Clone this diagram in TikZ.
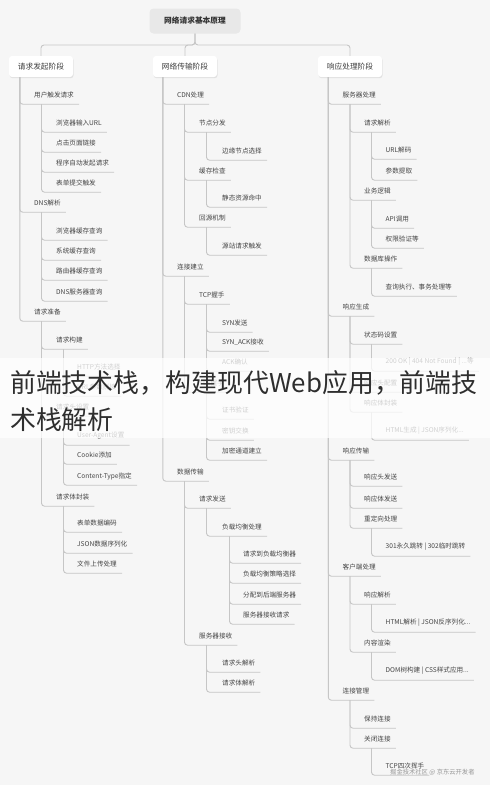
\documentclass[tikz,border=0pt]{standalone}
\usepackage{fontspec}
\setmainfont{Noto Sans CJK SC}
\usetikzlibrary{shadows}
\definecolor{bg}{HTML}{F6F6F6}
\definecolor{txt}{HTML}{454545}
\definecolor{ln}{HTML}{C6C6C6}
\definecolor{rootfill}{HTML}{E8E8E8}
\newcommand\mmnode[5]{\node[item] (#1) at (#2,#3) {#4}; \draw[conn] (#5) |- ([xshift=5pt]#1.south east);}
\newcommand\mmsub[5]{\mmnode{#1}{#2}{#3}{#4}{[xshift=7.5pt]#5.south west}}
\begin{document}
\begin{tikzpicture}[x=1pt,y=-1pt,
  item/.style={anchor=west, inner sep=0pt, minimum height=18pt, font=\fontsize{6.6}{7}\selectfont, text=txt},
  conn/.style={draw=ln, line width=0.9pt, rounded corners=3pt},
  phase/.style={draw=none, fill=white, rounded corners=3pt, minimum width=64pt, minimum height=21pt, inner sep=0pt,
    font=\fontsize{7.7}{8}\selectfont, text=black!75,
    drop shadow={opacity=0.18, shadow xshift=0.6pt, shadow yshift=-1.2pt}},
  rootbox/.style={fill=rootfill, rounded corners=4pt, minimum width=91pt, minimum height=25pt, inner sep=0pt,
    font=\fontsize{7.7}{8}\selectfont\bfseries, text=black!80},
  title/.style={anchor=west, inner sep=0pt, font=\fontsize{25.9}{30}\selectfont, text=black!82}]
\useasboundingbox (0,0) rectangle (490,785);
\fill[bg] (0,0) rectangle (490,785);

% root and phases
\node[rootbox] (root) at (195,21) {网络请求基本原理};
\node[phase] (p1) at (41,66.5) {请求发起阶段};
\node[phase] (p2) at (185,66.5) {网络传输阶段};
\node[phase] (p3) at (350,66.5) {响应处理阶段};
\coordinate (hub) at (195,45);
\draw[conn] (root.south) -- (hub) -| (p1.north);
\draw[conn] (root.south) -- (hub) -| (p2.north);
\draw[conn] (root.south) -- (hub) -| (p3.north);

% column 1
\mmnode{a1}{34}{95}{用户触发请求}{[xshift=11pt]p1.south west}
\mmsub{a11}{56}{123}{浏览器输入URL}{a1}
\mmsub{a12}{56}{143}{点击页面链接}{a1}
\mmsub{a13}{56}{163}{程序自动发起请求}{a1}
\mmsub{a14}{56}{183}{表单提交触发}{a1}
\mmnode{a2}{34}{203}{DNS解析}{[xshift=11pt]p1.south west}
\mmsub{a21}{56}{231}{浏览器缓存查询}{a2}
\mmsub{a22}{56}{251}{系统缓存查询}{a2}
\mmsub{a23}{56}{271}{路由器缓存查询}{a2}
\mmsub{a24}{56}{292}{DNS服务器查询}{a2}
\mmnode{a3}{34}{312}{请求准备}{[xshift=11pt]p1.south west}
\mmsub{a31}{56}{340}{请求构建}{a3}
\mmsub{a311}{77}{367}{HTTP方法选择}{a31}
\mmsub{a312}{77}{387}{URL参数拼接}{a31}
\mmsub{a32}{56}{407}{请求头设置}{a3}
\mmsub{a321}{77}{436}{User-Agent设置}{a32}
\mmsub{a322}{77}{455}{Cookie添加}{a32}
\mmsub{a323}{77}{476}{Content-Type指定}{a32}
\mmsub{a33}{56}{497}{请求体封装}{a3}
\mmsub{a331}{77}{523}{表单数据编码}{a33}
\mmsub{a332}{77}{544}{JSON数据序列化}{a33}
\mmsub{a333}{77}{564}{文件上传处理}{a33}

% column 2
\mmnode{b1}{177}{95}{CDN处理}{[xshift=10pt]p2.south west}
\mmsub{b11}{199}{123}{节点分发}{b1}
\mmsub{b111}{222}{151}{边缘节点选择}{b11}
\mmsub{b12}{199}{171}{缓存检查}{b1}
\mmsub{b121}{222}{198}{静态资源命中}{b12}
\mmsub{b13}{199}{218}{回源机制}{b1}
\mmsub{b131}{222}{246}{源站请求触发}{b13}
\mmnode{b2}{177}{267}{连接建立}{[xshift=10pt]p2.south west}
\mmsub{b21}{199}{295}{TCP握手}{b2}
\mmsub{b211}{222}{323}{SYN发送}{b21}
\mmsub{b212}{222}{342}{SYN\_ACK接收}{b21}
\mmsub{b213}{222}{362}{ACK确认}{b21}
\mmsub{b22}{199}{383}{TLS握手}{b2}
\mmsub{b221}{222}{410}{证书验证}{b22}
\mmsub{b222}{222}{431}{密钥交换}{b22}
\mmsub{b223}{222}{451}{加密通道建立}{b22}
\mmnode{b3}{177}{472}{数据传输}{[xshift=10pt]p2.south west}
\mmsub{b31}{199}{499}{请求发送}{b3}
\mmsub{b311}{222}{527}{负载均衡处理}{b31}
\mmsub{b3111}{243}{554}{请求到负载均衡器}{b311}
\mmsub{b3112}{243}{574}{负载均衡策略选择}{b311}
\mmsub{b3113}{243}{595}{分配到后端服务器}{b311}
\mmsub{b3114}{243}{615}{服务器接收请求}{b311}
\mmsub{b32}{199}{636}{服务器接收}{b3}
\mmsub{b321}{222}{663}{请求头解析}{b32}
\mmsub{b322}{222}{683}{请求体解析}{b32}

% column 3
\mmnode{c1}{342.5}{95}{服务器处理}{[xshift=10.5pt]p3.south west}
\mmsub{c11}{364}{123}{请求解析}{c1}
\mmsub{c111}{385.5}{150}{URL解码}{c11}
\mmsub{c112}{385.5}{171}{参数提取}{c11}
\mmsub{c12}{364}{191}{业务逻辑}{c1}
\mmsub{c121}{385.5}{219}{API调用}{c12}
\mmsub{c122}{385.5}{239}{权限验证等}{c12}
\mmsub{c13}{364}{259}{数据库操作}{c1}
\mmsub{c131}{385.5}{287}{查询执行、事务处理等}{c13}
\mmnode{c2}{342.5}{307}{响应生成}{[xshift=10.5pt]p3.south west}
\mmsub{c21}{364}{335}{状态码设置}{c2}
\mmsub{c211}{385.5}{362}{200 OK | 404 Not Found | ...等}{c21}
\mmsub{c22}{364}{383}{响应头配置}{c2}
\mmsub{c23}{364}{403}{响应体封装}{c2}
\mmsub{c231}{385.5}{431}{HTML生成 | JSON序列化...}{c23}
\mmnode{c3}{342.5}{451}{响应传输}{[xshift=10.5pt]p3.south west}
\mmsub{c31}{364}{477}{响应头发送}{c3}
\mmsub{c32}{364}{499}{响应体发送}{c3}
\mmsub{c33}{364}{519}{重定向处理}{c3}
\mmsub{c331}{385.5}{547}{301永久跳转 | 302临时跳转}{c33}
\mmnode{c4}{342.5}{567}{客户端处理}{[xshift=10.5pt]p3.south west}
\mmsub{c41}{364}{595}{响应解析}{c4}
\mmsub{c411}{385.5}{623}{HTML解析 | JSON反序列化...}{c41}
\mmsub{c42}{364}{643}{内容渲染}{c4}
\mmsub{c421}{385.5}{671}{DOM树构建 | CSS样式应用...}{c42}
\mmnode{c5}{342.5}{691}{连接管理}{[xshift=10.5pt]p3.south west}
\mmsub{c51}{364}{719}{保持连接}{c5}
\mmsub{c52}{364}{739}{关闭连接}{c5}
\mmsub{c521}{385.5}{766}{TCP四次挥手}{c52}

% watermark
\node[anchor=west, inner sep=0pt, font=\fontsize{6.3}{7}\selectfont, text=gray, opacity=0.8] (wm) at (390,772) {掘金技术社区 @ 京东云开发者};

% overlay band and title
\fill[white, opacity=0.75] (0,358) rectangle (490,438);
\node[title] (t1) at (10,383) {前端技术栈，构建现代Web应用，前端技};
\node[title] (t2) at (10,420) {术栈解析};
\end{tikzpicture}
\end{document}
